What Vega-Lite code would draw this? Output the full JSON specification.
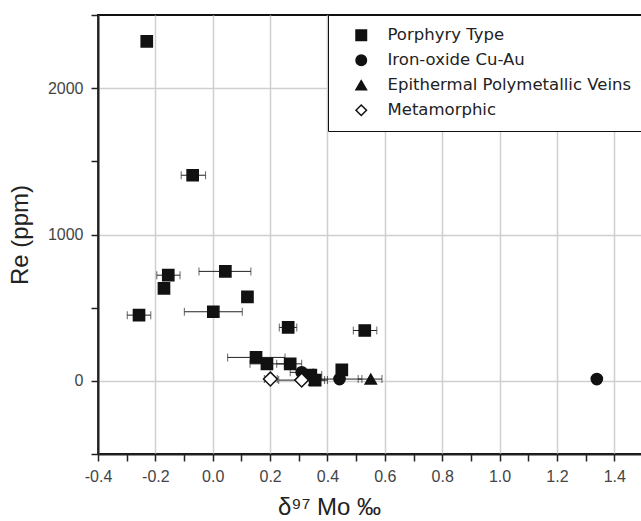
{
  "$schema": "https://vega.github.io/schema/vega-lite/v6.json",
  "autosize": "none",
  "width": 545,
  "height": 439,
  "padding": {"left": 98, "top": 15, "right": 0, "bottom": 67},
  "background": "white",
  "config": {
    "view": {"stroke": "#111", "strokeWidth": 2},
    "font": "Liberation Sans",
    "axis": {
      "domainColor": "#222", "domainWidth": 2,
      "tickColor": "#222", "tickWidth": 1.5, "tickSize": 7,
      "labelFont": "Liberation Sans", "labelFontSize": 16, "labelColor": "#444",
      "titleFont": "Liberation Sans", "titleFontSize": 24, "titleFontWeight": "normal", "titleColor": "#222",
      "gridWidth": 1.5
    },
    "legend": {
      "fillColor": "white", "strokeColor": "#111",
      "padding": 12, "symbolOffset": 13, "labelFontSize": 16.5, "labelFont": "DejaVu Sans", "labelColor": "#222",
      "rowPadding": 8, "labelOffset": 18, "symbolSize": 110, "symbolStrokeWidth": 1.5, "labelLimit": 400
    }
  },
  "data": {"values": [
    {"type": "Porphyry Type", "x": -0.23, "y": 2320},
    {"type": "Porphyry Type", "x": -0.07, "y": 1405, "lo": -0.11, "hi": -0.025},
    {"type": "Porphyry Type", "x": -0.155, "y": 722, "lo": -0.195, "hi": -0.114},
    {"type": "Porphyry Type", "x": -0.17, "y": 632},
    {"type": "Porphyry Type", "x": 0.044, "y": 748, "lo": -0.048, "hi": 0.133},
    {"type": "Porphyry Type", "x": 0.121, "y": 574},
    {"type": "Porphyry Type", "x": 0.002, "y": 472, "lo": -0.099, "hi": 0.103},
    {"type": "Porphyry Type", "x": -0.257, "y": 449, "lo": -0.298, "hi": -0.216},
    {"type": "Porphyry Type", "x": 0.263, "y": 365, "lo": 0.232, "hi": 0.293},
    {"type": "Porphyry Type", "x": 0.53, "y": 344, "lo": 0.49, "hi": 0.572},
    {"type": "Porphyry Type", "x": 0.151, "y": 160, "lo": 0.052, "hi": 0.252},
    {"type": "Porphyry Type", "x": 0.189, "y": 116, "lo": 0.13, "hi": 0.25},
    {"type": "Porphyry Type", "x": 0.27, "y": 116, "lo": 0.223, "hi": 0.31},
    {"type": "Porphyry Type", "x": 0.342, "y": 40, "lo": 0.3, "hi": 0.38},
    {"type": "Porphyry Type", "x": 0.357, "y": 5, "lo": 0.32, "hi": 0.4},
    {"type": "Porphyry Type", "x": 0.45, "y": 75},
    {"type": "Iron-oxide Cu-Au", "x": 0.31, "y": 58, "lo": 0.27, "hi": 0.35},
    {"type": "Iron-oxide Cu-Au", "x": 0.442, "y": 12, "lo": 0.37, "hi": 0.52},
    {"type": "Iron-oxide Cu-Au", "x": 1.339, "y": 12},
    {"type": "Epithermal Polymetallic Veins", "x": 0.551, "y": 12, "lo": 0.507, "hi": 0.59},
    {"type": "Epithermal Polymetallic Veins", "x": 0.355, "y": 5},
    {"type": "Metamorphic", "x": 0.201, "y": 12, "lo": 0.18, "hi": 0.225},
    {"type": "Metamorphic", "x": 0.31, "y": 5, "lo": 0.23, "hi": 0.39}
  ]},
  "layer": [
    {
      "transform": [{"filter": "isValid(datum.lo)"}],
      "mark": {"type": "errorbar", "ticks": {"size": 8, "color": "#222"}, "rule": {"color": "#222"}},
      "encoding": {
        "x": {"field": "lo", "type": "quantitative", "scale": {"domain": [-0.4, 1.5], "nice": false, "zero": false}, "title": "δ⁹⁷ Mo ‰",
          "axis": {
            "values": [-0.4,-0.3,-0.2,-0.1,0,0.1,0.2,0.3,0.4,0.5,0.6,0.7,0.8,0.9,1.0,1.1,1.2,1.3,1.4,1.5],
            "labelExpr": "abs(round(datum.value*10)) % 2 == 0 ? (datum.value < 0 ? '-' : '') + format(abs(datum.value), '.1f') : ''",
            "gridColor": {"condition": {"test": "abs(round(datum.value*10)) % 2 == 0", "value": "#cfcfcf"}, "value": "transparent"},
            "grid": true, "labelPadding": 7, "titlePadding": 11, "titleX": 231, "labelFlush": false
          }},
        "x2": {"field": "hi"},
        "y": {"field": "y", "type": "quantitative", "scale": {"domain": [-500, 2500], "nice": false, "zero": false}, "title": "Re (ppm)",
          "axis": {
            "values": [-500, 0, 500, 1000, 1500, 2000, 2500],
            "labelExpr": "datum.value % 1000 == 0 && datum.value >= 0 && datum.value <= 2000 ? datum.value : ''",
            "gridColor": {"condition": {"test": "datum.value % 1000 == 0", "value": "#cfcfcf"}, "value": "transparent"},
            "grid": true, "labelPadding": 8, "titlePadding": 15, "labelFlush": false
          }}
      }
    },
    {
      "mark": {"type": "point", "filled": false, "opacity": 1, "strokeWidth": 1.5},
      "encoding": {
        "x": {"field": "x", "type": "quantitative", "scale": {"domain": [-0.4, 1.5], "nice": false, "zero": false}, "title": "δ⁹⁷ Mo ‰",
          "axis": {
            "values": [-0.4,-0.3,-0.2,-0.1,0,0.1,0.2,0.3,0.4,0.5,0.6,0.7,0.8,0.9,1.0,1.1,1.2,1.3,1.4,1.5],
            "labelExpr": "abs(round(datum.value*10)) % 2 == 0 ? (datum.value < 0 ? '-' : '') + format(abs(datum.value), '.1f') : ''",
            "gridColor": {"condition": {"test": "abs(round(datum.value*10)) % 2 == 0", "value": "#cfcfcf"}, "value": "transparent"},
            "grid": true, "labelPadding": 7, "titlePadding": 11, "titleX": 231, "labelFlush": false
          }},
        "y": {"field": "y", "type": "quantitative", "scale": {"domain": [-500, 2500], "nice": false, "zero": false}, "title": "Re (ppm)",
          "axis": {
            "values": [-500, 0, 500, 1000, 1500, 2000, 2500],
            "labelExpr": "datum.value % 1000 == 0 && datum.value >= 0 && datum.value <= 2000 ? datum.value : ''",
            "gridColor": {"condition": {"test": "datum.value % 1000 == 0", "value": "#cfcfcf"}, "value": "transparent"},
            "grid": true, "labelPadding": 8, "titlePadding": 15, "labelFlush": false
          }},
        "shape": {"field": "type", "type": "nominal",
          "scale": {"domain": ["Porphyry Type", "Iron-oxide Cu-Au", "Epithermal Polymetallic Veins", "Metamorphic"], "range": ["square", "circle", "triangle-up", "diamond"]},
          "legend": {"title": " ", "titleOrient": "right", "titlePadding": 12, "orient": "none", "legendX": 230, "legendY": 0}},
        "fill": {"field": "type", "type": "nominal",
          "scale": {"domain": ["Porphyry Type", "Iron-oxide Cu-Au", "Epithermal Polymetallic Veins", "Metamorphic"], "range": ["#111", "#111", "#111", "white"]},
          "legend": {"title": " ", "titleOrient": "right", "titlePadding": 12, "orient": "none", "legendX": 230, "legendY": 0}},
        "stroke": {"field": "type", "type": "nominal",
          "scale": {"domain": ["Porphyry Type", "Iron-oxide Cu-Au", "Epithermal Polymetallic Veins", "Metamorphic"], "range": ["#111", "#111", "#111", "#111"]},
          "legend": {"title": " ", "titleOrient": "right", "titlePadding": 12, "orient": "none", "legendX": 230, "legendY": 0}},
        "size": {"condition": {"test": "datum.type == 'Metamorphic'", "value": 190}, "value": 125}
      }
    }
  ]
}
